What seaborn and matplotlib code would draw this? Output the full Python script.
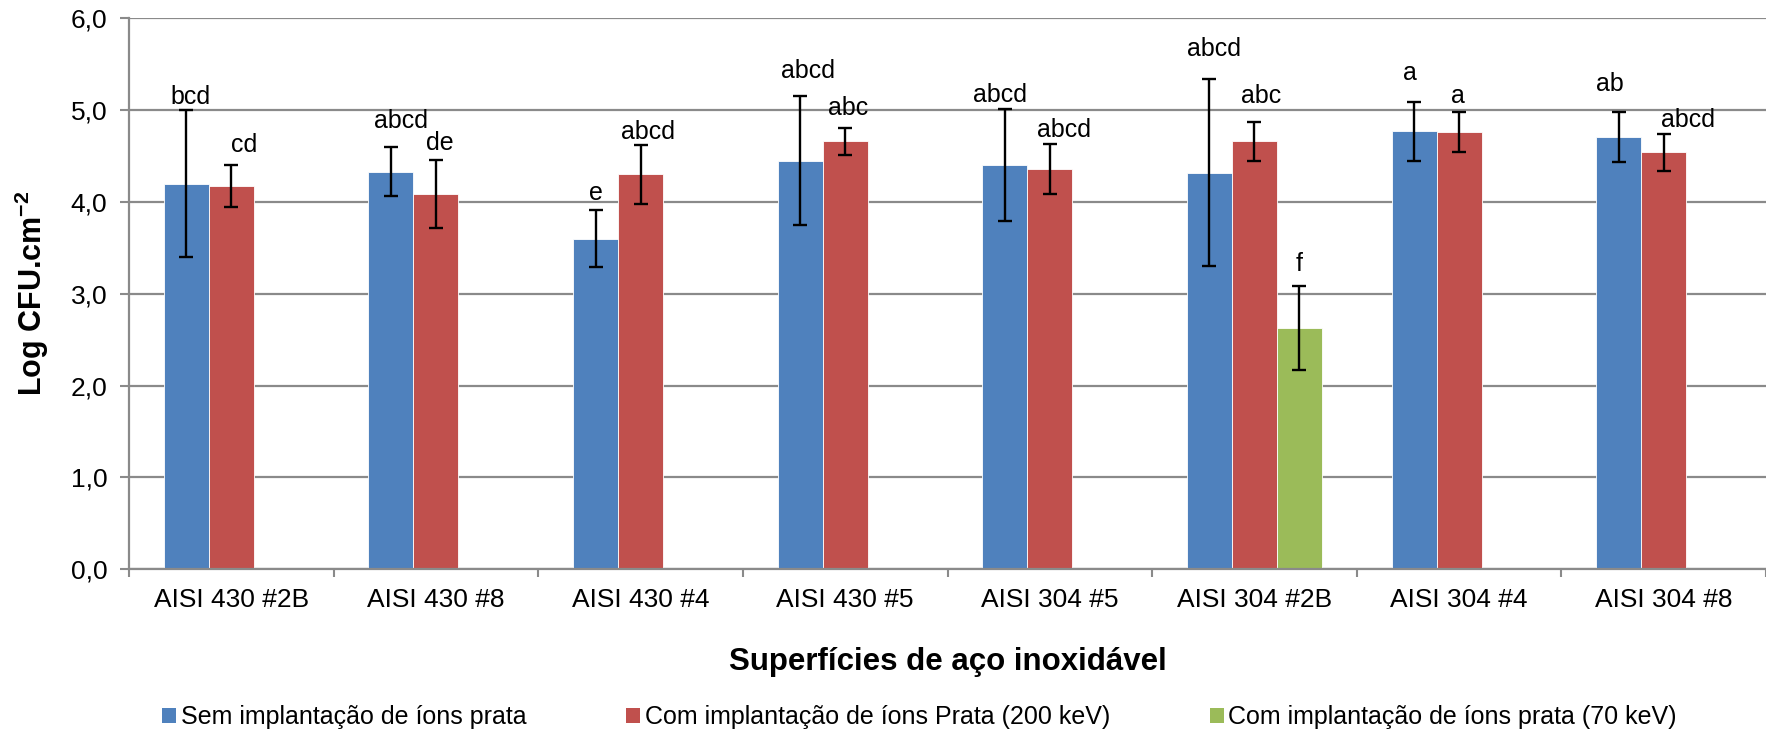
import numpy as np
import pandas as pd
import matplotlib
matplotlib.use("Agg")
import matplotlib.pyplot as plt
import seaborn as sns
from matplotlib.patches import Patch

# ---------------- data ----------------
categories = ["AISI 430 #2B", "AISI 430 #8", "AISI 430 #4", "AISI 430 #5",
              "AISI 304 #5", "AISI 304 #2B", "AISI 304 #4", "AISI 304 #8"]

series_names = ["Sem implantação de íons prata",
                "Com implantação de íons Prata (200 keV)",
                "Com implantação de íons prata (70 keV)"]

sem_vals = [4.20, 4.33, 3.60, 4.45, 4.40, 4.32, 4.77, 4.71]
sem_sd = [0.80, 0.27, 0.31, 0.70, 0.61, 1.02, 0.32, 0.27]
sem_letters = ["bcd", "abcd", "e", "abcd", "abcd", "abcd", "a", "ab"]

c200_vals = [4.17, 4.09, 4.30, 4.66, 4.36, 4.66, 4.76, 4.54]
c200_sd = [0.23, 0.37, 0.32, 0.15, 0.27, 0.21, 0.22, 0.20]
c200_letters = ["cd", "de", "abcd", "abc", "abcd", "abc", "a", "abcd"]

c70_vals = [None, None, None, None, None, 2.63, None, None]
c70_sd = [None, None, None, None, None, 0.46, None, None]
c70_letters = [None, None, None, None, None, "f", None, None]

yticks = [0, 1, 2, 3, 4, 5, 6]
ytick_labels = ["0,0", "1,0", "2,0", "3,0", "4,0", "5,0", "6,0"]

# ---------------- layout (label nudges in pixels: dx, gap above error bar) ----------------
sem_nudge = [(4, 6), (10, 19), (0, 10), (8, 18), (-5, 7), (5, 23), (-4, 22), (-9, 21)]
c200_nudge = [(13, 13), (4, 10), (7, 6), (3, 13), (14, 7), (7, 19), (-1, 9), (24, 7)]
c70_nudge = [None, None, None, None, None, (0, 15), None, None]

colors = ["#4F81BD", "#C0504D", "#9BBB59"]
grid_color = "#8A8A8A"

# ---------------- table ----------------
rows = []
info = {}
for name, vals, sds, letters, nudges in zip(
        series_names,
        [sem_vals, c200_vals, c70_vals],
        [sem_sd, c200_sd, c70_sd],
        [sem_letters, c200_letters, c70_letters],
        [sem_nudge, c200_nudge, c70_nudge]):
    for cat, v, s, l, n in zip(categories, vals, sds, letters, nudges):
        if v is None:
            continue
        rows.append({"superficie": cat, "serie": name, "valor": v})
        info[(name, cat)] = (s, l, n)
df = pd.DataFrame(rows)

# ---------------- style ----------------
sns.set_style("white")
plt.rcParams["font.family"] = ["Liberation Sans", "DejaVu Sans"]
plt.rcParams["mathtext.fontset"] = "custom"
plt.rcParams["mathtext.rm"] = "Liberation Sans"
plt.rcParams["mathtext.bf"] = "Liberation Sans:bold"
plt.rcParams["text.color"] = "black"
plt.rcParams["axes.labelcolor"] = "black"
plt.rcParams["xtick.color"] = "black"
plt.rcParams["ytick.color"] = "black"

W, H = 1766, 733
fig = plt.figure(figsize=(W / 100, H / 100), dpi=100)
left_px, right_px, top_px, bottom_px = 129, 1766, 18.3, 569.3
ax = fig.add_axes([left_px / W, 1 - bottom_px / H,
                   (right_px - left_px) / W, (bottom_px - top_px) / H])

sns.barplot(data=df, x="superficie", y="valor", hue="serie",
            order=categories, hue_order=series_names, palette=colors,
            width=0.66, errorbar=None, saturation=1,
            edgecolor="white", linewidth=0.6, legend=False, ax=ax)

for container, name in zip(ax.containers, series_names):
    for bar in container:
        h = bar.get_height()
        if not np.isfinite(h):
            continue
        cx = bar.get_x() + bar.get_width() / 2
        cat = categories[int(round(cx))]
        sd, letter, (dx, dy) = info[(name, cat)]
        ax.errorbar(cx, h, yerr=sd, fmt="none", ecolor="black",
                    elinewidth=1.7, capsize=5, capthick=1.7, zorder=4)
        ax.annotate(letter, xy=(cx, h + sd), xytext=(dx, dy),
                    textcoords="offset pixels", ha="center", va="baseline",
                    fontsize=18, color="black", zorder=5)

# ---------------- axes ----------------
ax.set_xlim(-0.5, len(categories) - 0.5)
ax.set_ylim(0, 6)
ax.set_yticks(yticks)
ax.set_yticklabels(ytick_labels)
ax.yaxis.grid(True, color=grid_color, linewidth=1.6)
ax.xaxis.grid(False)
ax.set_axisbelow(True)

for side in ["top", "right"]:
    ax.spines[side].set_visible(False)
for side in ["left", "bottom"]:
    ax.spines[side].set_color(grid_color)
    ax.spines[side].set_linewidth(1.6)

ax.tick_params(axis="y", which="major", left=True, length=6.5, width=1.5,
               color=grid_color, pad=9, labelsize=19, labelcolor="black")
ax.tick_params(axis="x", which="major", bottom=True, length=0, pad=13.5,
               labelsize=19, labelcolor="black")
ax.set_xticks(np.arange(-0.5, len(categories), 1.0), minor=True)
ax.tick_params(axis="x", which="minor", bottom=True, length=5.5, width=1.5,
               color=grid_color)

ax.set_xlabel("Superfícies de aço inoxidável", fontsize=22.5,
              fontweight="bold", labelpad=25, color="black")
ax.set_ylabel(r"Log CFU.cm$^{\mathbf{-2}}$", fontsize=22,
              fontweight="bold", labelpad=14, color="black")

handles = [Patch(facecolor=c, edgecolor="none") for c in colors]
leg = fig.legend(handles, series_names, loc="center",
                 bbox_to_anchor=(0.5207, 1 - 717 / H), ncol=3, frameon=False,
                 fontsize=18, handlelength=0.56, handleheight=0.56,
                 handletextpad=0.18, columnspacing=4.0, borderpad=0,
                 borderaxespad=0)
for t in leg.get_texts():
    t.set_color("black")

fig.savefig("out.png", dpi=100)
